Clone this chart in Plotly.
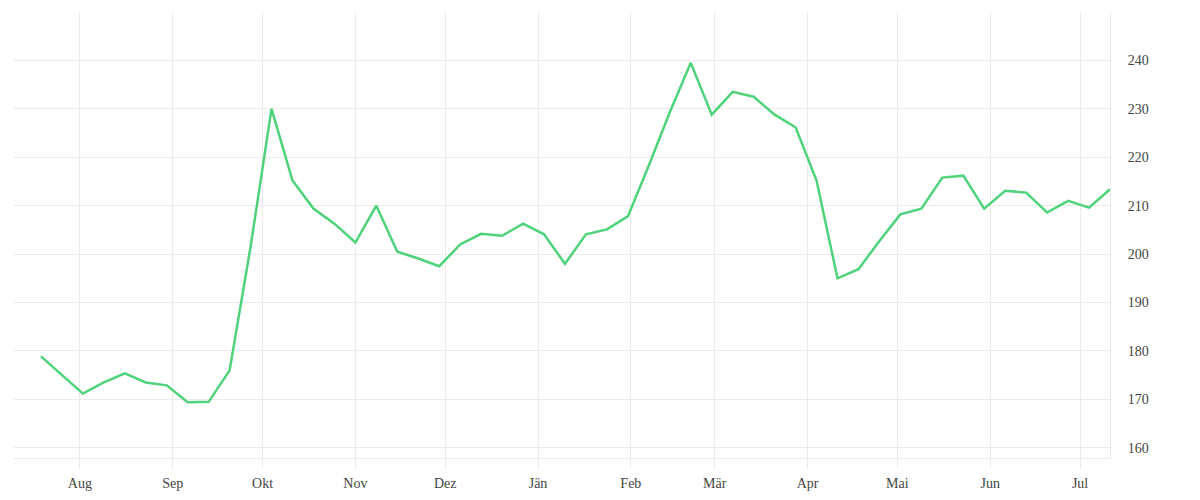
import plotly.graph_objects as go
import pandas as pd

start_date = "2022-07-19"
n_weeks = 52
values = [
    178.9, 175.0, 171.2, 173.5, 175.4, 173.5, 172.9, 169.4, 169.5, 176.0,
    201.5, 230.0, 215.2, 209.4, 206.3, 202.4, 210.0, 200.5, 199.1, 197.5,
    202.0, 204.2, 203.8, 206.3, 204.1, 198.0, 204.1, 205.1, 207.8, 218.3,
    229.3, 239.5, 228.8, 233.5, 232.5, 228.8, 226.2, 215.2, 195.0, 196.9,
    202.7, 208.2, 209.4, 215.8, 216.2, 209.4, 213.1, 212.7, 208.6, 211.0,
    209.6, 213.4,
]
dates = pd.date_range(start_date, periods=n_weeks, freq="7D")

tick_dates = pd.date_range("2022-08-01", "2023-07-01", freq="MS")
tick_labels = ["Aug", "Sep", "Okt", "Nov", "Dez", "Jän", "Feb", "Mär", "Apr", "Mai", "Jun", "Jul"]
y_ticks = [160, 170, 180, 190, 200, 210, 220, 230, 240]

fig = go.Figure()
fig.add_trace(go.Scatter(
    x=dates, y=values, mode="lines",
    line=dict(color="#4ed27a", width=2.5),
    hoverinfo="x+y", showlegend=False,
))

font = dict(family="Liberation Serif, DejaVu Serif, serif", size=14, color="#444444")
fig.update_layout(
    width=1200, height=500,
    margin=dict(l=6, r=98, t=4, b=50),
    paper_bgcolor="white", plot_bgcolor="white",
    font=font,
    xaxis=dict(
        range=["2022-07-10", "2023-07-11"],
        tickvals=list(tick_dates), ticktext=tick_labels,
        showgrid=True, gridcolor="#ebebeb", gridwidth=1,
        ticks="outside", ticklen=10, tickcolor="#ebebeb",
        ticklabelstandoff=2,
        showline=True, linecolor="#ebebeb", linewidth=1,
        zeroline=False,
    ),
    yaxis=dict(
        side="right",
        range=[157.9, 250],
        tickvals=y_ticks,
        showgrid=True, gridcolor="#ebebeb", gridwidth=1,
        ticks="outside", ticklen=14, tickcolor="rgba(0,0,0,0)",
        showline=True, linecolor="#ebebeb", linewidth=1,
        zeroline=False,
    ),
)

fig.write_html("out.html")
